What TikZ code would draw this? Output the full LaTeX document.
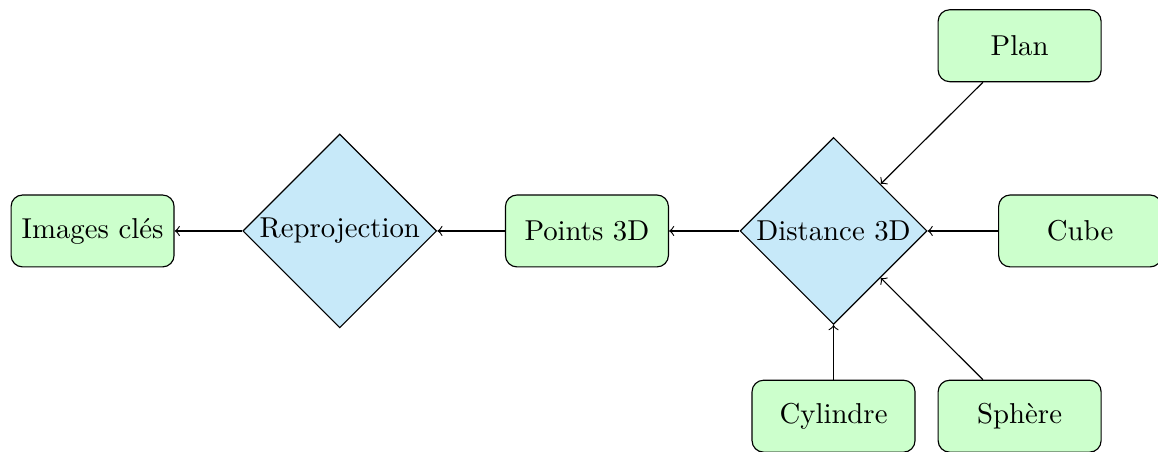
\documentclass[tikz,border=0pt]{standalone}
\usepackage{tikz}
\usetikzlibrary{shapes.geometric,positioning}
\definecolor{figBlock}{HTML}{CCFFCC}
\definecolor{figDecision}{HTML}{C7E9F9}

\begin{document}
\begin{tikzpicture}[
  node distance=2.45em,
  block/.style={rectangle,draw,fill=figBlock,text width=5em,align=center,
                rounded corners,minimum height=2.5em},
  decision/.style={diamond,draw,fill=figDecision,aspect=1,inner sep=0.7pt},
  fl/.style={->}
]
\useasboundingbox (-289.8pt,-76.8pt) rectangle (112.8pt,80.3pt);

\node[decision,minimum size=65pt] (dist) at (0,0) {Distance 3D};
\node[block,left=of dist]       (pts)   {Points 3D};
\node[decision,left=23.5pt of pts] (repr) {Reprojection};
\node[block,left=23.5pt of repr] (img)  {Images cl\'es};
\node[block,right=of dist]      (cube)  {Cube};
\node[block,below=19pt of dist] (cyl)   {Cylindre};
\node[block,above=19pt of dist,xshift=64.7pt] (plan) {Plan};
\node[block,below=19pt of dist,xshift=64.7pt] (sph)  {Sph\`ere};

\draw[fl] (plan) -- (dist);
\draw[fl] (cube) -- (dist);
\draw[fl] (sph)  -- (dist);
\draw[fl] (cyl)  -- (dist);
\draw[fl] (dist) -- (pts);
\draw[fl] (pts)  -- (repr);
\draw[fl] (repr) -- (img);
\end{tikzpicture}
\end{document}
